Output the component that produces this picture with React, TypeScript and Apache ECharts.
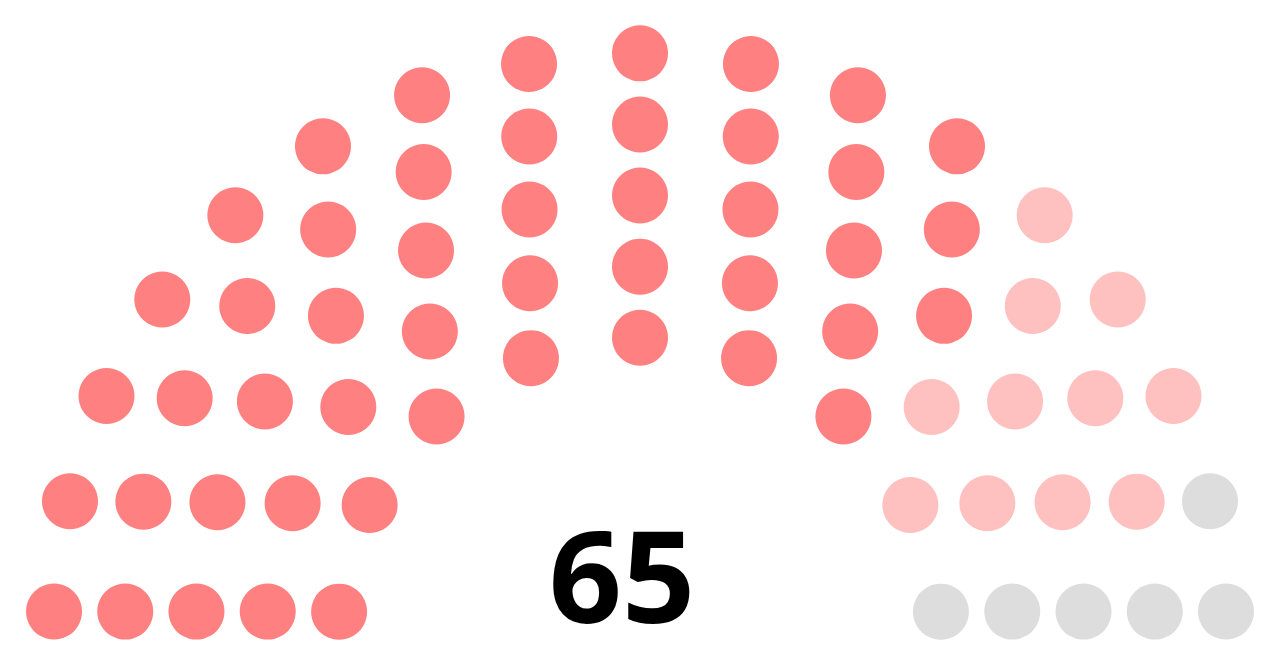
import React, { useEffect, useRef } from "react";
import * as echarts from "echarts";

// Parties (left to right) and their seats
const partyNames = ["Party A", "Party B", "Vacant / Other"];
const partySeats = [48, 11, 6];
const partyColors = ["#FF8080", "#FFC0C0", "#DDDDDD"];

// Seats per concentric row, inner to outer
const rowSeats = [9, 11, 13, 15, 17];
const totalLabel = "65";

type Seat = { angle: number; x: number; y: number };

function layoutSeats(): Seat[] {
  const rows = rowSeats.length;
  const rad = 0.4 / rows;
  const seats: Seat[] = [];
  rowSeats.forEach((n, idx) => {
    const i = idx + 1;
    const R = (3 * rows + 4 * i - 2) / (4 * rows);
    const off = Math.sin(rad / R);
    for (let j = 0; j < n; j++) {
      const a = n > 1 ? off + (j * (Math.PI - 2 * off)) / (n - 1) : Math.PI / 2;
      seats.push({ angle: a, x: R * Math.cos(a), y: R * Math.sin(a) });
    }
  });
  // left (largest angle) first
  seats.sort((p, q) => q.angle - p.angle);
  return seats;
}

export default function App() {
  const ref = useRef<HTMLDivElement>(null);
  useEffect(() => {
    document.body.style.margin = "0";
    if (!ref.current) return;
    const chart = echarts.init(ref.current, null, { renderer: "svg" });
    const seats = layoutSeats();
    let k = 0;
    const series = partySeats.map((cnt, p) => {
      const data = seats.slice(k, k + cnt).map((s) => [s.x, s.y]);
      k += cnt;
      return {
        name: partyNames[p],
        type: "scatter",
        data,
        symbol: "circle",
        symbolSize: 56,
        clip: false,
        itemStyle: { color: partyColors[p], opacity: 1 },
        emphasis: { disabled: true },
      };
    });
    chart.setOption({
      animation: false,
      backgroundColor: "#ffffff",
      grid: { left: 0, top: 0, width: 1280, height: 640 },
      xAxis: { type: "value", min: -1.8, max: 1.8, show: false },
      yAxis: { type: "value", min: 0, max: 1.8, show: false },
      series,
      graphic: [
        {
          type: "text",
          x: 622,
          y: 573,
          style: {
            text: totalLabel,
            fontSize: 128,
            fontWeight: "bold",
            fontFamily: "Open Sans",
            fill: "#000000",
            textAlign: "center",
            textVerticalAlign: "middle",
          },
        },
      ],
    });
    return () => chart.dispose();
  }, []);
  return <div ref={ref} style={{ width: "1280px", height: "658px" }} />;
}
